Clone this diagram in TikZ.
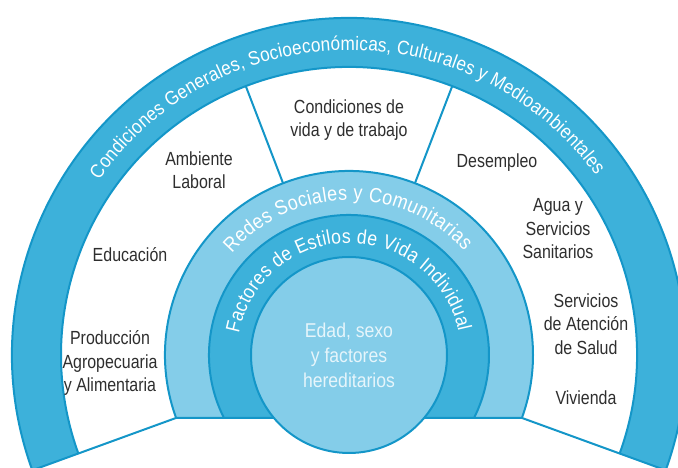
\documentclass[tikz,border=0pt]{standalone}
\usepackage{fontspec}
\setmainfont{Liberation Sans}
\newfontfamily\etiqueta{Liberation Sans}[FakeStretch=0.84]
\newfontfamily\anillo{Liberation Sans}[FakeStretch=0.88]
\usetikzlibrary{decorations.text}
\definecolor{azul}{HTML}{3DB1DA}
\definecolor{celeste}{HTML}{84CDE9}
\definecolor{borde}{HTML}{1496C8}
\definecolor{gris}{HTML}{2E2E2E}
\definecolor{claro}{HTML}{E6F5FB}

\begin{document}
\begin{tikzpicture}[x=1pt, y=1pt,
    franja/.style={fill=azul, draw=borde, line width=2pt, line join=round},
    capa/.style={fill=celeste, draw=borde, line width=2pt},
    linea/.style={draw=borde, line width=2pt},
    etq/.style={align=center, text=gris, inner sep=0pt, font=\etiqueta\fontsize{19}{23.5}\selectfont},
    curvo/.style 2 args={decorate, decoration={text along path, text align=fit to path, text={|\anillo\fontsize{#1}{20}\selectfont\color{white}|#2}}}]
    \clip (0,0) rectangle (678,468);
    \coordinate (c) at (349,113);

    % Franja exterior y separadores
    \begin{scope}[shift={(c)}]
    \draw[franja] (200:337pt) arc[start angle=200, end angle=-20, radius=337pt]
        -- (-20:288pt) arc[start angle=-20, end angle=200, radius=288pt] -- cycle;
    \draw[linea] (111:184pt) -- (111:288pt);
    \draw[linea] (69:184pt) -- (69:288pt);
    \draw[linea] (200:184pt) -- (200:288pt);
    \draw[linea] (-20:184pt) -- (-20:288pt);

    % Capas interiores
    \draw[capa] (200:184pt) arc[start angle=200, end angle=-20, radius=184pt] -- cycle;
    \draw[franja] (206.7:140pt) arc[start angle=206.7, end angle=-26.7, radius=140pt] -- cycle;
    \draw[capa] (0,0) circle[radius=98pt];

    % Textos curvos
    \path[curvo={19.5}{Condiciones Generales, Socioeconómicas, Culturales y Medioambientales}]
        (145:305pt) arc[start angle=145, end angle=36, radius=305pt];
    \path[curvo={20.5}{Redes Sociales y Comunitarias}]
        (139:155pt) arc[start angle=139, end angle=42, radius=155pt];
    \path[curvo={20}{Factores de Estilos de Vida Individual}]
        (169:112pt) arc[start angle=169, end angle=12, radius=112pt];
    \end{scope}

    % Textos
    \node[align=center, text=claro, font=\anillo\fontsize{20}{25}\selectfont] (centro) at (c) {Edad, sexo\\y factores\\hereditarios};
    \node[etq] (vida) at (349,348) {Condiciones de\\vida y de trabajo};
    \node[etq] (laboral) at (199,298) {Ambiente\\Laboral};
    \node[etq] (educ) at (130,213) {Educación};
    \node[etq] (prod) at (110,105) {Producción\\Agropecuaria\\y Alimentaria};
    \node[etq] (desem) at (497,305) {Desempleo};
    \node[etq] (agua) at (558,239) {Agua y\\Servicios\\Sanitarios};
    \node[etq] (salud) at (586,144) {Servicios\\de Atención\\de Salud};
    \node[etq] (viv) at (586,70) {Vivienda};
\end{tikzpicture}
\end{document}
